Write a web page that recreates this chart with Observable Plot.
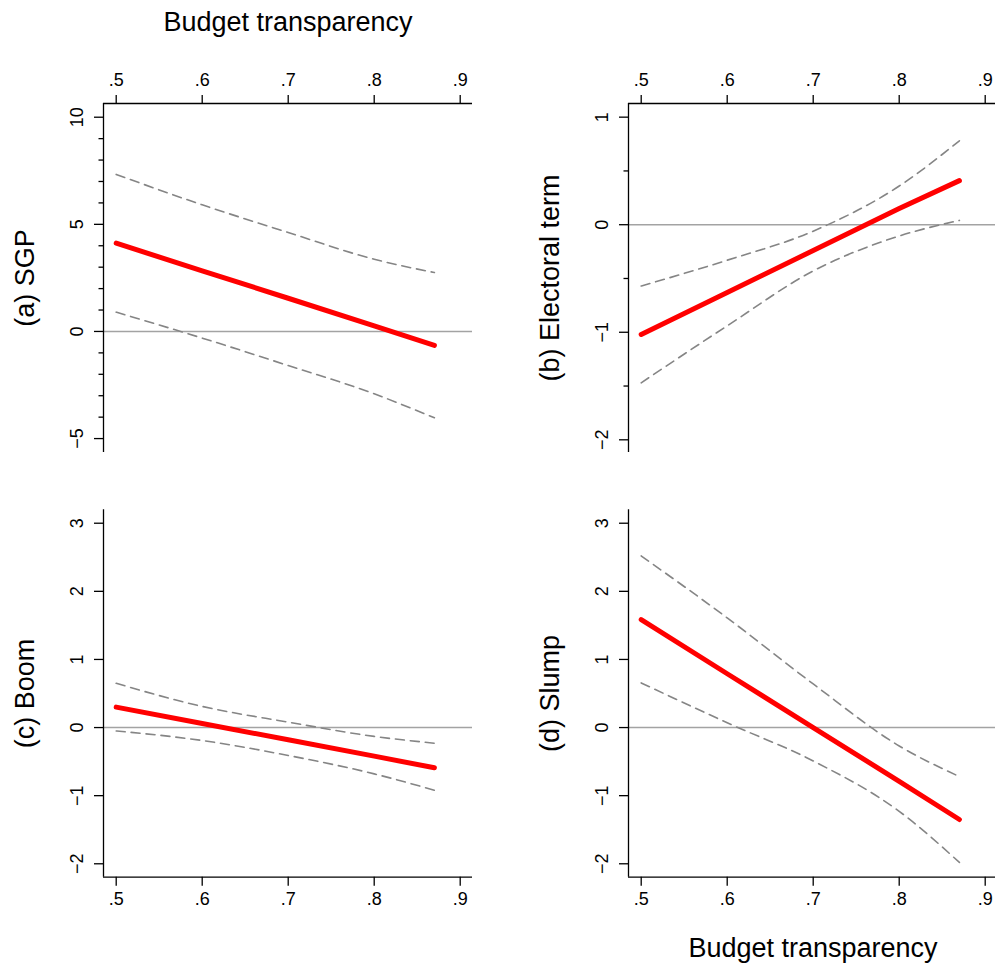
<!DOCTYPE html>
<html><head><meta charset="utf-8">
<script src="https://cdn.jsdelivr.net/npm/d3@7"></script>
<script src="https://cdn.jsdelivr.net/npm/@observablehq/plot@0.6"></script>
<style>
html,body{margin:0;padding:0;background:#fff;overflow:hidden}
#wrap{position:relative;width:995px;height:968px;overflow:hidden;background:#fff}
#wrap > .p{position:absolute;width:500px}
#wrap svg{max-width:none !important;display:block}
</style></head><body><div id="wrap"></div>
<script>
// Budget transparency values at which effects were read
const xValues = [0.5, 0.6, 0.7, 0.8, 0.87];
const xTicks = [0.5, 0.6, 0.7, 0.8, 0.9];
const xTickLabels = [".5", ".6", ".7", ".8", ".9"];
const xTitle = "Budget transparency";

// (a) SGP
const sgpFit   = [4.12, 2.83, 1.55, 0.26, -0.65];
const sgpUpper = [7.33, 5.91, 4.62, 3.37, 2.75];
const sgpLower = [0.90, -0.31, -1.59, -2.91, -4.03];
const sgpTicks = [-5, 0, 5, 10];
const sgpTickLabels = ["−5", "0", "5", "10"];
const sgpMinor = [-4, -3, -2, -1, 1, 2, 3, 4, 6, 7, 8, 9];

// (b) Electoral term
const elecFit   = [-1.02, -0.63, -0.24, 0.15, 0.41];
const elecUpper = [-0.57, -0.33, -0.06, 0.36, 0.78];
const elecLower = [-1.47, -0.94, -0.43, -0.105, 0.04];
const elecTicks = [-2, -1, 0, 1];
const elecTickLabels = ["−2", "−1", "0", "1"];
const elecMinor = [-1.5, -0.5, 0.5];

// (c) Boom
const boomFit   = [0.30, 0.06, -0.18, -0.42, -0.59];
const boomUpper = [0.65, 0.31, 0.08, -0.13, -0.23];
const boomLower = [-0.05, -0.19, -0.41, -0.68, -0.92];

// (d) Slump
const slumpFit   = [1.585, 0.79, 0.0, -0.79, -1.35];
const slumpUpper = [2.52, 1.61, 0.64, -0.27, -0.72];
const slumpLower = [0.655, 0.07, -0.49, -1.23, -1.98];

const lowTicks = [-2, -1, 0, 1, 2, 3];
const lowTickLabels = ["−2", "−1", "0", "1", "2", "3"];

const xDomain = [0.48523, 0.9143];
const FONT = "'Liberation Sans', Arial, Helvetica, sans-serif";
const TICK_FS = 18;

function panel(o) {
  const rows = xValues.map((x, i) => ({x, fit: o.fit[i], upper: o.upper[i], lower: o.lower[i]}));
  const top = o.xAnchor === "top";
  const marks = [
    Plot.ruleY([0], {stroke: "#a3a3a3", strokeWidth: 1.6}),
    Plot.line(rows, {x: "x", y: "upper", stroke: "#858585", strokeWidth: 1.6, strokeDasharray: "9,6", curve: "monotone-x"}),
    Plot.line(rows, {x: "x", y: "lower", stroke: "#858585", strokeWidth: 1.6, strokeDasharray: "9,6", curve: "monotone-x"}),
    Plot.line(rows, {x: "x", y: "fit", stroke: "#ff0000", strokeWidth: 5, strokeLinecap: "round"}),
    Plot.axisX(xTicks, {anchor: o.xAnchor, tickSize: 9, tickPadding: top ? 9 : 6, strokeWidth: 1.3, fontSize: TICK_FS, fill: "#000",
      tickFormat: d => xTickLabels[xTicks.indexOf(d)], label: null}),
    Plot.axisY(o.yTicks, {anchor: "left", tickSize: 9, tickRotate: -90, tickPadding: 12, strokeWidth: 1.3, fontSize: TICK_FS, fill: "#000",
      tickFormat: d => o.yTickLabels[o.yTicks.indexOf(d)], label: null}),
    Plot.ruleX([xDomain[0]], {stroke: "#000", strokeWidth: 1.3}),
    Plot.ruleY([top ? o.yDomain[1] : o.yDomain[0]], {stroke: "#000", strokeWidth: 1.3}),
    Plot.text([o.label], {frameAnchor: "left", rotate: -90, dx: -70, lineAnchor: "bottom", textAnchor: "middle", fontSize: 27, fill: "#000"})
  ];
  if (o.minor) marks.push(Plot.axisY(o.minor, {anchor: "left", tickSize: 4.5, strokeWidth: 1.3, tickFormat: () => "", label: null}));
  if (o.title) marks.push(Plot.text([o.title], {frameAnchor: o.xAnchor, dy: o.titleDy, lineAnchor: "bottom", textAnchor: "middle", fontSize: 27, fill: "#000"}));
  const svg = Plot.plot({
    width: 500, height: o.height,
    marginLeft: 103, marginRight: 28, marginTop: o.marginTop, marginBottom: o.marginBottom,
    style: {fontFamily: FONT, fontSize: TICK_FS + "px", color: "#000", background: "transparent", overflow: "visible", maxWidth: "none"},
    x: {domain: xDomain},
    y: {domain: o.yDomain},
    marks
  });
  const div = document.createElement("div");
  div.className = "p";
  div.style.left = o.left + "px";
  div.style.top = o.topPx + "px";
  div.appendChild(svg);
  document.getElementById("wrap").appendChild(div);
  return svg;
}

panel({fit: sgpFit, upper: sgpUpper, lower: sgpLower, yDomain: [-5.65, 10.64], yTicks: sgpTicks, yTickLabels: sgpTickLabels,
  minor: sgpMinor, label: "(a) SGP", xAnchor: "top", title: xTitle, titleDy: -73,
  left: 0, topPx: 0, height: 480, marginTop: 103, marginBottom: 28});
panel({fit: elecFit, upper: elecUpper, lower: elecLower, yDomain: [-2.118, 1.127], yTicks: elecTicks, yTickLabels: elecTickLabels,
  minor: elecMinor, label: "(b) Electoral term", xAnchor: "top",
  left: 525, topPx: 0, height: 480, marginTop: 103, marginBottom: 28});
panel({fit: boomFit, upper: boomUpper, lower: boomLower, yDomain: [-2.197, 3.197], yTicks: lowTicks, yTickLabels: lowTickLabels,
  label: "(c) Boom", xAnchor: "bottom",
  left: 0, topPx: 480, height: 488, marginTop: 29.3, marginBottom: 91.3});
panel({fit: slumpFit, upper: slumpUpper, lower: slumpLower, yDomain: [-2.197, 3.197], yTicks: lowTicks, yTickLabels: lowTickLabels,
  label: "(d) Slump", xAnchor: "bottom", title: xTitle, titleDy: 80,
  left: 525, topPx: 480, height: 488, marginTop: 29.3, marginBottom: 91.3});
</script>
</body></html>
